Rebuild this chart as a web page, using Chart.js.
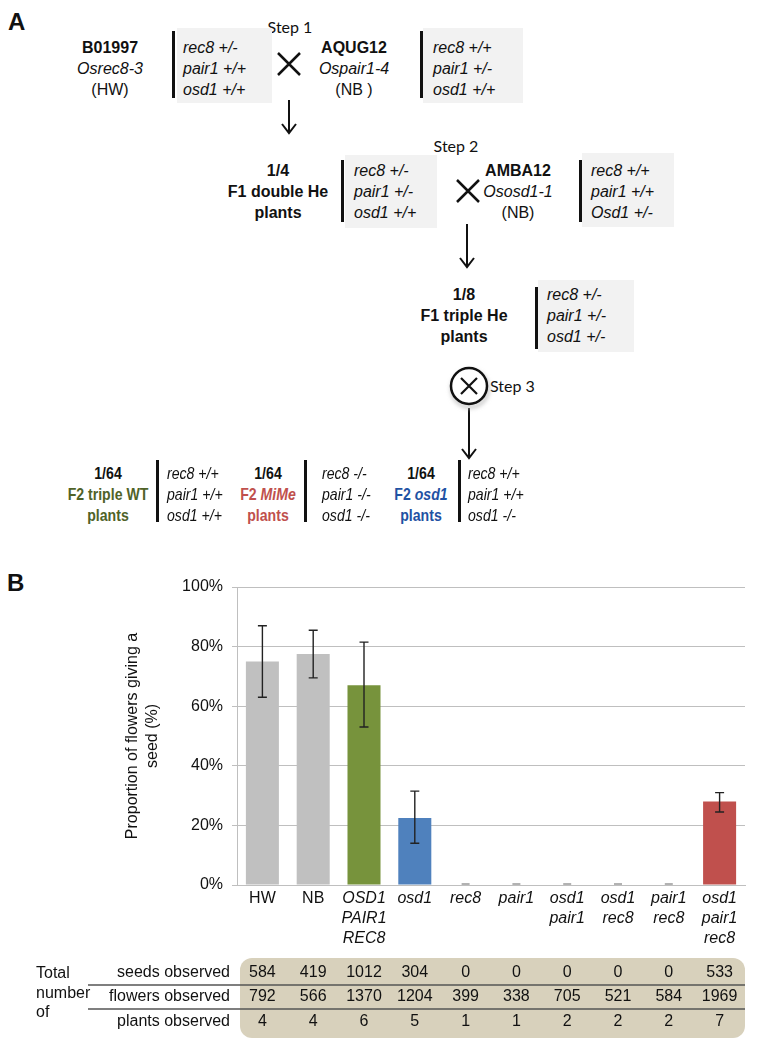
<!DOCTYPE html>
<html lang="en">
<head>
<meta charset="utf-8"/>
<title>Crossing scheme and seed fertility</title>
<script src="https://cdn.jsdelivr.net/npm/chart.js@4.4.0/dist/chart.umd.min.js"></script>
<style>
  html, body { margin: 0; padding: 0; background: #fff; }
  #page { position: relative; width: 758px; height: 1045px; overflow: hidden;
          font-family: "Liberation Sans", Arial, sans-serif; color: #111; }
  .t { position: absolute; font-size: 16px; line-height: 21px; white-space: nowrap; }
  .c { text-align: center; transform: translateX(-50%); }
  .b { font-weight: bold; }
  .i { font-style: italic; }
  .box { position: absolute; background: #f2f2f2; }
  .bar { position: absolute; width: 3px; background: #111; }
  .step { position: absolute; font-family: Lato, "Open Sans", sans-serif; font-size: 16px; line-height: 20px; }
  .panel { position: absolute; font-size: 24px; font-weight: bold; line-height: 28px; }
  /* bottom row of panel A uses a condensed face in the original */
  .f2 { font-size: 17px; transform-origin: left top; transform: scaleX(0.83); }
  .f2.c { transform-origin: center top; transform: translateX(-50%) scaleX(0.83); }
  #chartBox { position: absolute; left: 0; top: 560px; width: 758px; height: 485px; }
  svg { position: absolute; left: 0; top: 0; }
</style>
</head>
<body>
<div id="page">
  <!-- panel A : crossing scheme -->
  <div class="panel" style="left:8px;top:8px">A</div>

  <div class="step c" style="left:290px;top:17px">Step 1</div>
  <div class="t c" style="left:110px;top:37px"><span class="b">B01997</span><br><span class="i">Osrec8-3</span><br>(HW)</div>
  <div class="box" style="left:177px;top:28px;width:95px;height:75px"></div>
  <div class="bar" style="left:172px;top:31px;height:67px"></div>
  <div class="t i" style="left:183px;top:37px">rec8 +/-<br>pair1 +/+<br>osd1 +/+</div>
  <div class="t c" style="left:354px;top:37px"><span class="b">AQUG12</span><br><span class="i">Ospair1-4</span><br>(NB )</div>
  <div class="box" style="left:423px;top:28px;width:100px;height:75px"></div>
  <div class="bar" style="left:420px;top:31px;height:67px"></div>
  <div class="t i" style="left:433px;top:37px">rec8 +/+<br>pair1 +/-<br>osd1 +/+</div>

  <div class="step c" style="left:456px;top:136px">Step 2</div>
  <div class="t c b" style="left:278px;top:160px">1/4<br>F1 double He<br>plants</div>
  <div class="box" style="left:345px;top:155px;width:92px;height:73px"></div>
  <div class="bar" style="left:341px;top:160px;height:62px"></div>
  <div class="t i" style="left:354px;top:160px">rec8 +/-<br>pair1 +/-<br>osd1 +/+</div>
  <div class="t c" style="left:518px;top:160px"><span class="b">AMBA12</span><br><span class="i">Ososd1-1</span><br>(NB)</div>
  <div class="box" style="left:582px;top:153px;width:92px;height:74px"></div>
  <div class="bar" style="left:579px;top:160px;height:62px"></div>
  <div class="t i" style="left:591px;top:160px">rec8 +/+<br>pair1 +/+<br>Osd1 +/-</div>

  <div class="t c b" style="left:464px;top:284px">1/8<br>F1 triple He<br>plants</div>
  <div class="box" style="left:538px;top:280px;width:96px;height:72px"></div>
  <div class="bar" style="left:535px;top:287px;height:62px"></div>
  <div class="t i" style="left:547px;top:284px">rec8 +/-<br>pair1 +/-<br>osd1 +/-</div>
  <div class="step" style="left:490px;top:376px">Step 3</div>

  <div class="t c b f2" style="left:108px;top:463px">1/64<br><span style="color:#4f6228">F2 triple WT<br>plants</span></div>
  <div class="bar" style="left:156px;top:460px;height:62px"></div>
  <div class="t i f2" style="left:167px;top:463px">rec8 +/+<br>pair1 +/+<br>osd1 +/+</div>
  <div class="t c b f2" style="left:268px;top:463px">1/64<br><span style="color:#c0504d">F2 <i>MiMe</i><br>plants</span></div>
  <div class="bar" style="left:304px;top:460px;height:62px"></div>
  <div class="t i f2" style="left:322px;top:463px">rec8 -/-<br>pair1 -/-<br>osd1 -/-</div>
  <div class="t c b f2" style="left:421px;top:463px">1/64<br><span style="color:#1f52a3">F2 <i>osd1</i><br>plants</span></div>
  <div class="bar" style="left:458px;top:460px;height:62px"></div>
  <div class="t i f2" style="left:468px;top:463px">rec8 +/+<br>pair1 +/+<br>osd1 -/-</div>

  <svg width="758" height="560" viewBox="0 0 758 560">
    <defs>
      <filter id="sh" x="-50%" y="-50%" width="200%" height="200%">
        <feGaussianBlur stdDeviation="2"/>
      </filter>
    </defs>
    <g stroke="#111" stroke-width="2.5" fill="none" stroke-linecap="butt">
      <!-- crosses -->
      <path d="M278 53 L300 75 M300 53 L278 75"/>
      <path d="M457 180 L479 202 M479 180 L457 202"/>
      <!-- arrows -->
      <path d="M289 100 L289 132 M282 124 L289 133 L296 124" stroke-width="2"/>
      <path d="M467 224 L467 266 M460 258 L467 267 L474 258" stroke-width="2"/>
      <path d="M469 408 L469 457 M462 449 L469 458 L476 449" stroke-width="2"/>
      <!-- selfing symbol -->
      <circle cx="470" cy="389" r="18" stroke="#bbb" stroke-width="3" filter="url(#sh)"/>
      <circle cx="469" cy="386" r="18" fill="#fff"/>
      <path d="M461 378 L477 394 M477 378 L461 394" stroke-width="2.2"/>
    </g>
  </svg>

  <!-- panel B : seed fertility -->
  <div class="panel" style="left:7px;top:569px">B</div>
  <div id="chartBox"><canvas id="seedChart" width="758" height="485"></canvas></div>
</div>

<script>
const categories = [
  ['HW'], ['NB'], ['OSD1', 'PAIR1', 'REC8'], ['osd1'], ['rec8'], ['pair1'],
  ['osd1', 'pair1'], ['osd1', 'rec8'], ['pair1', 'rec8'], ['osd1', 'pair1', 'rec8']
];
const seedProportion = [75, 77.5, 67, 22.5, 0, 0, 0, 0, 0, 28];
const errLow  = [63, 69.5, 53, 14, 0, 0, 0, 0, 0, 24.5];
const errHigh = [87, 85.5, 81.5, 31.5, 0, 0, 0, 0, 0, 31];
const barColors = ['#c0c0c0', '#c0c0c0', '#77933c', '#4f81bd', '#c0c0c0',
                   '#c0c0c0', '#c0c0c0', '#c0c0c0', '#c0c0c0', '#c0504d'];
const yTitle = ['Proportion of flowers giving a', 'seed (%)'];

const rowLabels = ['seeds observed', 'flowers observed', 'plants observed'];
const seedsObserved   = [584, 419, 1012, 304, 0, 0, 0, 0, 0, 533];
const flowersObserved = [792, 566, 1370, 1204, 399, 338, 705, 521, 584, 1969];
const plantsObserved  = [4, 4, 6, 5, 1, 1, 2, 2, 2, 7];
const tableRows = [seedsObserved, flowersObserved, plantsObserved];

const FONT = '"Liberation Sans", Arial, sans-serif';

// error bars (zero columns only get a small grey dash)
const errorBars = {
  id: 'errorBars',
  afterDatasetsDraw(chart) {
    const ctx = chart.ctx, x = chart.scales.x, y = chart.scales.y;
    ctx.save();
    seedProportion.forEach((v, i) => {
      const cx = x.getPixelForTick(i);
      const top = y.getPixelForValue(errHigh[i]);
      const bot = y.getPixelForValue(errLow[i]);
      if (errHigh[i] === 0) {
        ctx.strokeStyle = '#999';
        ctx.lineWidth = 1.5;
        ctx.beginPath();
        ctx.moveTo(cx - 4, top - 1); ctx.lineTo(cx + 4, top - 1);
        ctx.stroke();
        return;
      }
      ctx.strokeStyle = '#222';
      ctx.lineWidth = 1.4;
      ctx.beginPath();
      ctx.moveTo(cx, top); ctx.lineTo(cx, bot);
      ctx.moveTo(cx - 4.5, top); ctx.lineTo(cx + 4.5, top);
      ctx.moveTo(cx - 4.5, bot); ctx.lineTo(cx + 4.5, bot);
      ctx.stroke();
    });
    ctx.restore();
  }
};

// counts table under the axis, columns follow the x scale
const countsTable = {
  id: 'countsTable',
  afterDraw(chart) {
    const ctx = chart.ctx, x = chart.scales.x, area = chart.chartArea;
    const left = area.left + 3, right = area.right, top = 398, bottom = 478, r = 12;
    ctx.save();
    ctx.fillStyle = '#d8d1bc';
    ctx.beginPath();
    ctx.roundRect(left, top, right - left, bottom - top, r);
    ctx.fill();

    ctx.strokeStyle = '#555';
    ctx.lineWidth = 1.5;
    [425, 449].forEach(ly => {
      ctx.beginPath(); ctx.moveTo(88, ly); ctx.lineTo(right, ly); ctx.stroke();
    });

    ctx.fillStyle = '#111';
    ctx.font = '16px ' + FONT;
    ctx.textBaseline = 'middle';
    ctx.textAlign = 'left';
    ctx.fillText('Total', 36, 414);
    ctx.fillText('number', 36, 434);
    ctx.fillText('of', 36, 453);

    const rowY = [413, 437, 462];
    rowLabels.forEach((lab, r) => {
      ctx.textAlign = 'right';
      ctx.fillText(lab, 230, rowY[r]);
      ctx.textAlign = 'center';
      tableRows[r].forEach((n, i) => ctx.fillText(String(n), x.getPixelForTick(i), rowY[r]));
    });
    ctx.restore();
  }
};

new Chart(document.getElementById('seedChart'), {
  type: 'bar',
  data: {
    labels: categories,
    datasets: [{
      data: seedProportion,
      backgroundColor: barColors,
      borderWidth: 0,
      barPercentage: 0.65,
      categoryPercentage: 1
    }]
  },
  options: {
    responsive: false,
    animation: false,
    events: [],
    layout: { padding: { left: 0, right: 13, top: 27, bottom: 95 } },
    plugins: { legend: { display: false }, tooltip: { enabled: false } },
    scales: {
      x: {
        grid: { display: false, tickLength: 4 },
        border: { display: true, color: '#bfbfbf' },
        ticks: {
          color: '#111',
          padding: 0,
          maxRotation: 0,
          autoSkip: false,
          font: ctx => ({ family: FONT, size: 16, lineHeight: 1.25,
                          style: ctx.index < 2 ? 'normal' : 'italic' })
        },
        afterFit(scale) { scale.height = 65; }
      },
      y: {
        min: 0, max: 100,
        ticks: { stepSize: 20, color: '#111', padding: 9,
                 font: { family: FONT, size: 16 }, callback: v => v + '%' },
        grid: { color: '#bfbfbf', tickLength: 5 },
        border: { color: '#bfbfbf' },
        title: { display: true, text: yTitle, color: '#111',
                 font: { family: FONT, size: 16, lineHeight: 1.25 },
                 padding: { top: 123, bottom: 0 } },
        afterFit(scale) { scale.width = 237; }
      }
    }
  },
  plugins: [errorBars, countsTable]
});
</script>
</body>
</html>
